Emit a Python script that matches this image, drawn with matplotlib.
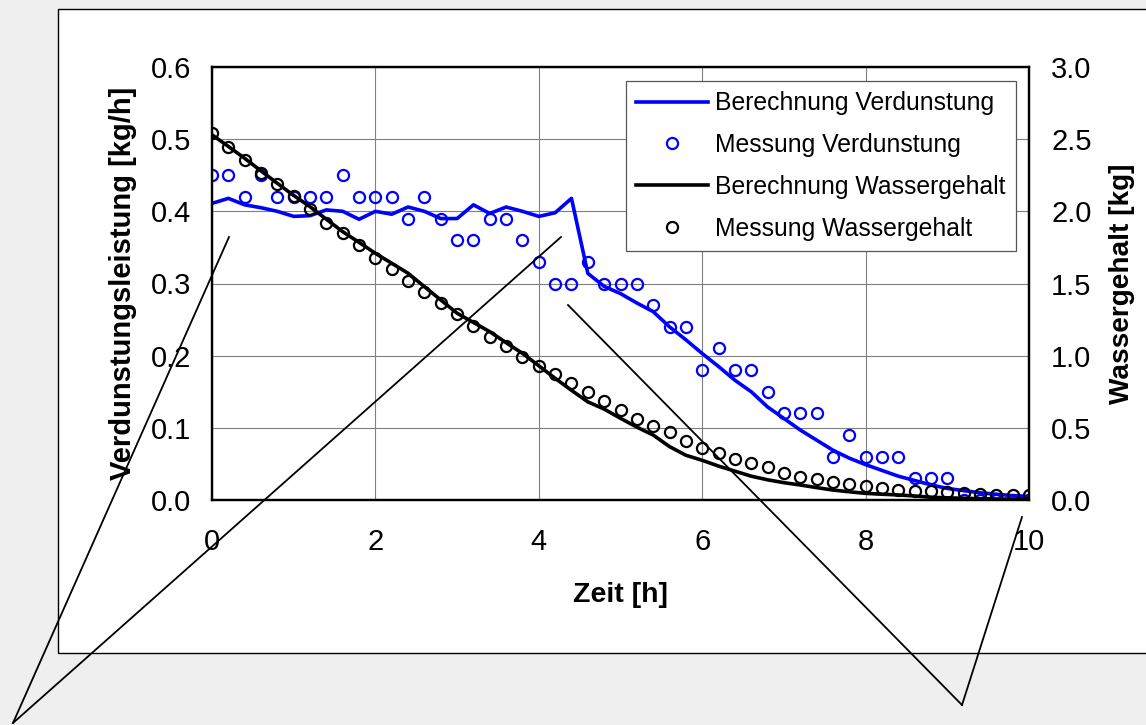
import numpy as np
import matplotlib.pyplot as plt
from matplotlib.lines import Line2D
from matplotlib.patches import Rectangle

plt.rcParams['font.family'] = ['Liberation Sans', 'DejaVu Sans']

# time grid [h], every 0.2 h
zeit = np.round(np.arange(51) * 0.2, 1)

verd_mess = [0.45, 0.45, 0.42, 0.45, 0.42, 0.42, 0.42, 0.42, 0.45, 0.42,
             0.42, 0.42, 0.39, 0.42, 0.39, 0.36, 0.36, 0.39, 0.39, 0.36,
             0.33, 0.30, 0.30, 0.33, 0.30, 0.30, 0.30, 0.27, 0.24, 0.24,
             0.18, 0.21, 0.18, 0.18, 0.15, 0.12, 0.12, 0.12, 0.06, 0.09,
             0.06, 0.06, 0.06, 0.03, 0.03, 0.03, 0.0, 0.0, 0.0, 0.0, 0.0]

verd_ber = [0.411, 0.418, 0.409, 0.405, 0.400, 0.393, 0.394, 0.402, 0.400, 0.389,
            0.400, 0.396, 0.406, 0.400, 0.390, 0.390, 0.409, 0.397, 0.406, 0.400,
            0.393, 0.398, 0.418, 0.314, 0.296, 0.286, 0.273, 0.261, 0.240, 0.222,
            0.203, 0.185, 0.166, 0.150, 0.129, 0.113, 0.097, 0.083, 0.069, 0.058,
            0.049, 0.041, 0.033, 0.027, 0.021, 0.016, 0.013, 0.010, 0.008, 0.006, 0.005]

wasser_mess = [2.545, 2.448, 2.356, 2.263, 2.187, 2.106, 2.014, 1.921, 1.848, 1.767,
               1.675, 1.598, 1.520, 1.443, 1.363, 1.286, 1.208, 1.132, 1.069, 0.993,
               0.931, 0.873, 0.813, 0.746, 0.688, 0.626, 0.559, 0.515, 0.473, 0.411,
               0.363, 0.328, 0.284, 0.254, 0.226, 0.189, 0.162, 0.145, 0.127, 0.111,
               0.097, 0.081, 0.070, 0.065, 0.060, 0.052, 0.046, 0.040, 0.038, 0.035, 0.035]

wasser_ber = [2.530, 2.450, 2.367, 2.280, 2.194, 2.110, 2.032, 1.945, 1.859, 1.785,
              1.709, 1.640, 1.571, 1.478, 1.386, 1.294, 1.230, 1.166, 1.090, 1.016,
              0.930, 0.843, 0.760, 0.680, 0.630, 0.566, 0.505, 0.450, 0.370, 0.310,
              0.275, 0.235, 0.200, 0.165, 0.140, 0.120, 0.104, 0.086, 0.069, 0.057,
              0.046, 0.040, 0.035, 0.028, 0.019, 0.015, 0.012, 0.009, 0.007, 0.006, 0.005]

W, H = 1146, 725


def fx(px):
    return px / W


def fy(py):
    return 1 - py / H


fig = plt.figure(figsize=(W / 100, H / 100), dpi=100)
fig.patch.set_facecolor('#efefef')

# white chart area with thin border
fig.add_artist(Rectangle((fx(58), fy(653)), 1.2, fy(9) - fy(653), transform=fig.transFigure,
                         facecolor='white', edgecolor='black', lw=1.0, zorder=-10))

ax = fig.add_axes([fx(212), fy(500), fx(1029) - fx(212), fy(67) - fy(500)])
ax2 = ax.twinx()

l1, = ax.plot(zeit, verd_ber, color='#0000ff', lw=2.6, label='Berechnung Verdunstung')
m1, = ax.plot(zeit, verd_mess, 'o', ms=8, mfc='none', mec='#0000ff', mew=1.6,
              label='Messung Verdunstung')
l2, = ax2.plot(zeit, wasser_ber, color='black', lw=2.6, label='Berechnung Wassergehalt')
m2, = ax2.plot(zeit, wasser_mess, 'o', ms=8, mfc='none', mec='black', mew=1.6,
               label='Messung Wassergehalt')

ax.set_xlim(0, 10)
ax.set_ylim(0, 0.6)
ax2.set_ylim(0, 3.0)
ax.set_xticks([0, 2, 4, 6, 8, 10])
ax.set_yticks(np.arange(0, 0.61, 0.1))
ax2.set_yticks(np.arange(0, 3.01, 0.5))
ax.yaxis.set_major_formatter(plt.FormatStrFormatter('%.1f'))
ax2.yaxis.set_major_formatter(plt.FormatStrFormatter('%.1f'))

ax.grid(True, color='#7f7f7f', lw=0.8)
ax.set_axisbelow(True)
ax.tick_params(axis='x', length=0, pad=20, labelsize=21)
ax.tick_params(axis='y', length=0, pad=15, labelsize=21)
ax2.tick_params(axis='y', length=0, pad=16, labelsize=21)

for a in (ax, ax2):
    for s in a.spines.values():
        s.set_linewidth(1.6)
        s.set_color('black')

ax.set_xlabel('Zeit [h]', fontsize=20.5, fontweight='bold')
ax.xaxis.set_label_coords(0.5, -0.22)
ax.xaxis.label.set_va('center')
ax.set_ylabel('Verdunstungsleistung [kg/h]', fontsize=21, fontweight='bold')
ax.yaxis.set_label_coords((123 - 212) / 817, 0.5)
ax.yaxis.label.set_va('center')
ax2.set_ylabel('Wassergehalt [kg]', fontsize=20.2, fontweight='bold')
ax2.yaxis.set_label_coords((1122 - 212) / 817, 0.5)
ax2.yaxis.label.set_va('center')

leg = ax2.legend(handles=[l1, m1, l2, m2], loc='upper right',
                 bbox_to_anchor=(0.984, 0.968), borderaxespad=0, fontsize=17.8,
                 fancybox=False, framealpha=1, edgecolor='#555555', handlelength=2.9,
                 handletextpad=0.3, labelspacing=0.72, borderpad=0.42)
leg.get_frame().set_linewidth(0.9)

# pointer lines drawn over the chart
for (x0, y0), (x1, y1) in [((229, 237), (13, 723)), ((561, 237), (13, 723)),
                           ((568, 305), (962, 705)), ((962, 705), (1022, 517))]:
    fig.add_artist(Line2D([fx(x0), fx(x1)], [fy(y0), fy(y1)], transform=fig.transFigure,
                          color='black', lw=1.3, zorder=5))

fig.savefig('out.png', dpi=100, facecolor=fig.get_facecolor())
